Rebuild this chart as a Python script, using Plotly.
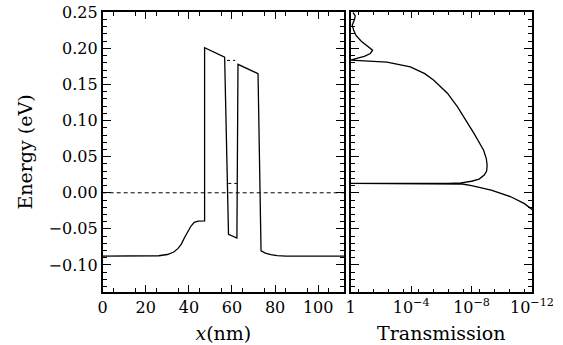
import plotly.graph_objects as go

# Potential profile (left panel)
x_nm = [0, 20, 26, 30, 33, 35, 36.5, 38, 39.5, 41, 42.5, 44.3, 47.3, 47.3, 56.6, 58.4, 62.3, 62.8, 72.1, 73.5, 75.5, 78, 81, 85, 112]
E_pot = [-0.0877, -0.0877, -0.0872, -0.0855, -0.082, -0.077, -0.071, -0.062, -0.053, -0.046, -0.041, -0.0392, -0.0388,
         0.201, 0.188, -0.0576, -0.0627, 0.178, 0.165, -0.0803, -0.0835, -0.0858, -0.087, -0.0877, -0.0877]

# Resonance levels (dotted)
res1_x = [57.7, 61.5]
res1_E = [0.1834, 0.1834]
res2_x = [58.3, 62.3]
res2_E = [0.013, 0.013]

# Fermi level (dashed)
ef_x = [0, 112]
ef_E = [0.0, 0.0]

# Transmission (right panel), log10(T) vs energy
E_tr = [0.250, 0.245, 0.240, 0.232, 0.225, 0.218, 0.210, 0.204, 0.1976, 0.193, 0.189, 0.1862, 0.1843,
        0.1838, 0.1830, 0.1820, 0.181, 0.1745, 0.165, 0.156, 0.138, 0.119, 0.100, 0.082, 0.059, 0.047,
        0.038, 0.030, 0.0245, 0.019, 0.016, 0.0137, 0.0131, 0.0130, 0.0129, 0.0122, 0.010, 0.0037,
        -0.0055, -0.015, -0.026]
logT = [-0.15, -0.3, -0.25, -0.1, -0.2, -0.35, -0.7, -1.1, -1.45, -1.3, -0.9, -0.4, -0.05,
        0.0, -0.6, -1.5, -2.4, -3.95, -4.9, -5.5, -6.4, -7.07, -7.65, -8.17, -8.8, -8.98,
        -9.03, -9.0, -8.84, -8.5, -8.0, -7.3, -6.5, 0.0, -6.5, -7.4, -8.0, -9.3,
        -10.6, -11.5, -12.2]
T_tr = [10 ** v for v in logT]

# Tick labels / positions
x_labvals = [0, 20, 40, 60, 80, 100]
x_labtext = ["0", "20", "40", "60", "80", "100"]
x_midvals = [10, 30, 50, 70, 90, 110]
x_minvals = [v + 5 for v in range(0, 110, 10)]
t_labvals = [1, 1e-4, 1e-8, 1e-12]
t_labtext = ["1", "10<sup>\u22124</sup>", "10<sup>\u22128</sup>", "10<sup>\u221212</sup>"]
t_midvals = [10 ** (-k) for k in range(1, 12) if k % 4 != 0]
t_minvals = [10 ** (-k - 0.5) for k in range(0, 12)]

FONT = "DejaVu Serif"
LW = 1.3

fig = go.Figure()
fig.add_trace(go.Scatter(x=x_nm, y=E_pot, mode="lines", line=dict(color="black", width=LW),
                         xaxis="x", yaxis="y", showlegend=False))
fig.add_trace(go.Scatter(x=ef_x, y=ef_E, mode="lines", line=dict(color="black", width=1, dash="4px,3px"),
                         xaxis="x", yaxis="y", showlegend=False))
fig.add_trace(go.Scatter(x=res1_x, y=res1_E, mode="lines", line=dict(color="black", width=1, dash="dot"),
                         xaxis="x", yaxis="y", showlegend=False))
fig.add_trace(go.Scatter(x=res2_x, y=res2_E, mode="lines", line=dict(color="black", width=1, dash="dot"),
                         xaxis="x", yaxis="y", showlegend=False))
fig.add_trace(go.Scatter(x=T_tr, y=E_tr, mode="lines", line=dict(color="black", width=LW),
                         xaxis="x2", yaxis="y2", showlegend=False))

ax = dict(showline=True, linecolor="black", linewidth=1.8, mirror="ticks", ticks="inside",
          tickcolor="black", showgrid=False, zeroline=False, automargin=False,
          ticklabeloverflow="allow")

W, H = 563, 345
yrange = [-0.137, 0.25]
xd1 = [0.1824, 0.6110]
xd2 = [0.6229, 0.9449]
yd = [0.1545, 0.9643]
TITLE_SIZE = 19

fig.update_layout(
    width=W, height=H,
    margin=dict(l=0, r=0, t=0, b=0, autoexpand=False),
    paper_bgcolor="white", plot_bgcolor="white",
    font=dict(family=FONT, size=16, color="black"),
    xaxis=dict(domain=xd1, range=[0, 112], tickmode="array", tickvals=x_labvals,
               ticktext=x_labtext, ticklen=7, tickwidth=1,
               minor=dict(tickvals=x_minvals, ticklen=4, ticks="inside", tickcolor="black"),
               title=dict(text="<i>x</i>(nm)", standoff=11, font=dict(size=TITLE_SIZE)),
               anchor="y", **ax),
    xaxis3=dict(domain=xd1, range=[0, 112], tickmode="array", tickvals=x_midvals,
                ticklen=7, tickwidth=1, showticklabels=False, overlaying="x", anchor="y", **ax),
    yaxis=dict(domain=yd, range=yrange, dtick=0.05, tick0=0, tickformat=".2f",
               ticklen=8, tickwidth=1,
               minor=dict(dtick=0.01, ticklen=4, ticks="inside", tickcolor="black"),
               title=dict(text="Energy (eV)", standoff=11, font=dict(size=TITLE_SIZE)),
               anchor="x", **ax),
    xaxis2=dict(domain=xd2, type="log", range=[0, -12], tickmode="array",
                tickvals=t_labvals, ticktext=t_labtext, ticklen=6, tickwidth=1,
                minor=dict(tickvals=t_minvals, ticklen=3, ticks="inside", tickcolor="black"),
                title=dict(text="Transmission", standoff=11, font=dict(size=TITLE_SIZE)),
                anchor="y2", **ax),
    xaxis4=dict(domain=xd2, type="log", range=[0, -12], tickmode="array",
                tickvals=t_midvals, ticklen=6, tickwidth=1, showticklabels=False,
                overlaying="x2", anchor="y2", **ax),
    yaxis2=dict(domain=yd, range=yrange, dtick=0.05, tick0=0, showticklabels=False,
                ticklen=8, tickwidth=1,
                minor=dict(dtick=0.01, ticklen=4, ticks="inside", tickcolor="black"),
                anchor="x2", **ax),
)

fig.write_html("out.html", config={"displayModeBar": False},
               post_script="document.body.style.margin='0';")
